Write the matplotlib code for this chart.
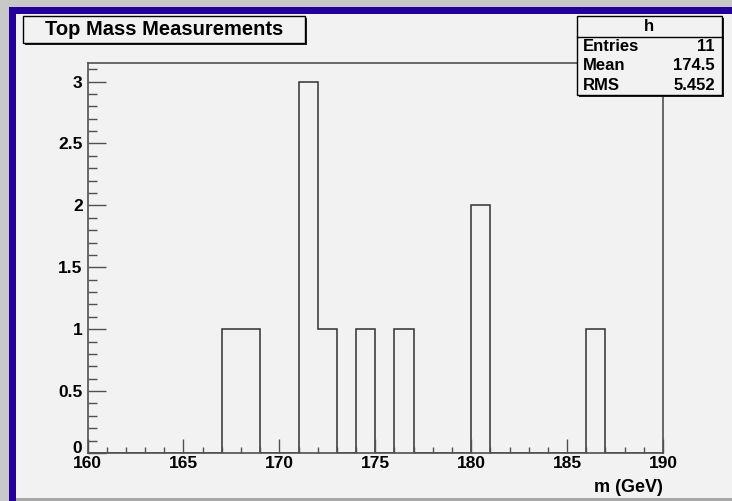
import numpy as np
import matplotlib
matplotlib.use("Agg")
import matplotlib.pyplot as plt
import matplotlib.transforms as mtransforms
from matplotlib.patches import Rectangle
from matplotlib.ticker import MultipleLocator

plt.rcParams["font.family"] = ["Liberation Sans", "DejaVu Sans"]
plt.rcParams["font.weight"] = "bold"

# histogram "h": 1 GeV bins from 160 to 190
bin_edges = np.arange(160, 191, 1)
counts = [0, 0, 0, 0, 0, 0, 0, 1, 1, 0,
          0, 3, 1, 0, 1, 0, 1, 0, 0, 0,
          2, 0, 0, 0, 0, 0, 1, 0, 0, 0]
stat_names = ["Entries", "Mean", "RMS"]
stat_values = ["11", "174.5", "5.452"]
title = "Top Mass Measurements"
hist_name = "h"
x_label = "m (GeV)"

W, H = 732, 501
fig = plt.figure(figsize=(W / 100, H / 100), dpi=100)
fig.patch.set_facecolor("#c8c8c8")


def box(x0, y0, x1, y1, **kw):
    # pixel coords (origin top-left) -> figure fraction
    r = Rectangle((x0 / W, 1 - y1 / H), (x1 - x0) / W, (y1 - y0) / H,
                  transform=fig.transFigure, **kw)
    fig.add_artist(r)
    return r


def txt(x, y, s, **kw):
    fig.text(x / W, 1 - y / H, s, **kw)


# canvas with ROOT-like border
box(9, 7, W, H, facecolor="#220099", edgecolor="none", zorder=0)
box(16, 14, W, H, facecolor="#a8a8a8", edgecolor="none", zorder=0)
box(16, 14, W, 498, facecolor="#f2f2f2", edgecolor="none", zorder=0)

ax = fig.add_axes([87.5 / W, 1 - 453 / H, (663 - 87.5) / W, (453 - 63) / H])
ax.set_facecolor("#f2f2f2")
ax.stairs(counts, bin_edges, color="#303030", linewidth=1.1)

ax.set_xlim(160, 190)
ax.set_ylim(0, max(counts) * 1.05)
ax.xaxis.set_major_locator(MultipleLocator(5))
ax.xaxis.set_minor_locator(MultipleLocator(1))
ax.yaxis.set_major_locator(MultipleLocator(0.5))
ax.yaxis.set_minor_locator(MultipleLocator(0.1))
ax.yaxis.set_major_formatter(matplotlib.ticker.FuncFormatter(lambda v, p: f"{v:g}"))

for s in ax.spines.values():
    s.set_color("#505050")
    s.set_linewidth(1.2)

ax.tick_params(axis="both", which="both", direction="in", color="#505050",
               width=1.0, top=False, right=False, labelsize=12.5)
ax.tick_params(axis="x", which="major", length=10, pad=2)
ax.tick_params(axis="x", which="minor", length=4.3)
ax.tick_params(axis="y", which="major", length=13, pad=3.5)
ax.tick_params(axis="y", which="minor", length=6.5)

# ROOT puts the y "0" a little higher, just above the first x label
fig.canvas.draw()
for lab in ax.get_yticklabels():
    if lab.get_text() == "0":
        lab.set_transform(lab.get_transform() +
                          mtransforms.ScaledTranslation(-1 / 100, 6 / 100, fig.dpi_scale_trans))

txt(663, 488, x_label, ha="right", va="center", fontsize=13, weight="bold")

# title box
box(24.5, 18, 307, 44.5, facecolor="#202020", edgecolor="none", zorder=5)
box(22.5, 16, 305, 42.5, facecolor="#f2f2f2", edgecolor="black", linewidth=1.0, zorder=6)
txt(164, 29.5, title, ha="center", va="center", fontsize=14.5, weight="bold", zorder=7)

# stats box
box(579, 18, 724, 97, facecolor="#202020", edgecolor="none", zorder=5)
box(577, 16, 722, 95, facecolor="#f2f2f2", edgecolor="black", linewidth=1.0, zorder=6)
fig.add_artist(plt.Line2D([577 / W, 722 / W], [1 - 36.5 / H, 1 - 36.5 / H],
                          transform=fig.transFigure, color="black", linewidth=1.0, zorder=7))
txt(649, 26.5, hist_name, ha="center", va="center", fontsize=12, weight="bold", zorder=7)
for i, (name, val) in enumerate(zip(stat_names, stat_values)):
    y = 46.5 + i * 19.3
    txt(583, y, name, ha="left", va="center", fontsize=12, weight="bold", zorder=7)
    txt(715, y, val, ha="right", va="center", fontsize=12, weight="bold", zorder=7)

fig.savefig("out.png", dpi=100, facecolor=fig.get_facecolor())
